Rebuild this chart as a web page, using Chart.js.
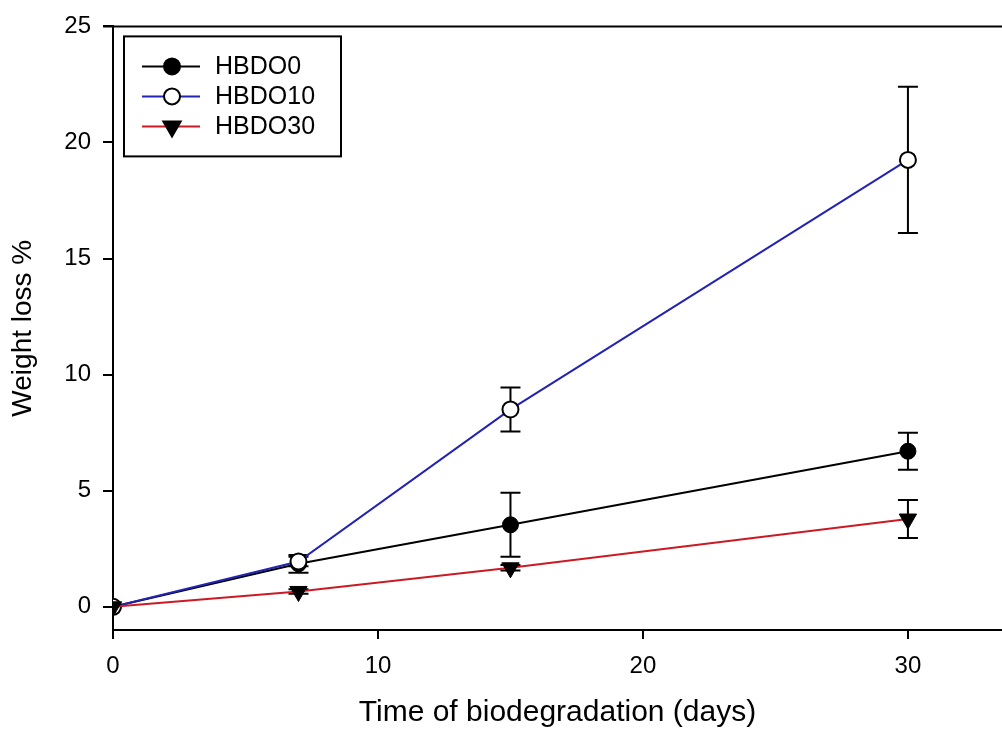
<!DOCTYPE html>
<html>
<head>
<meta charset="utf-8">
<title>Weight loss</title>
<script src="https://cdn.jsdelivr.net/npm/chart.js@4/dist/chart.umd.min.js"></script>
<style>
  html, body { margin: 0; padding: 0; background: #fff; overflow: hidden; }
  /* kanvas sedikit lebih lebar supaya sumbu x terpotong di tepi kanan */
  #wrap { width: 1002px; height: 732px; overflow: hidden; }
</style>
</head>
<body>
<div id="wrap"><canvas id="lossChart" width="1013" height="732"></canvas></div>
<script>
// Hari pengamatan
const days = [0, 7, 15, 30];

// Rata-rata weight loss (%) tiap sampel
const hbdo0 = [0, 1.85, 3.53, 6.70];
const hbdo10 = [0, 1.95, 8.50, 19.25];
const hbdo30 = [0, 0.66, 1.68, 3.78];

// Simpangan (error bar)
const hbdo0Err = [0, 0.38, 1.38, 0.80];
const hbdo10Err = [0, 0.20, 0.95, 3.15];
const hbdo30Err = [0, 0.10, 0.12, 0.82];

const seriesNames = ['HBDO0', 'HBDO10', 'HBDO30'];
const xTicks = [0, 10, 20, 30];
const yTicks = [0, 5, 10, 15, 20, 25];

const FONT = 'Arial, "Liberation Sans", sans-serif';

function toPoints(ys, errs) {
    return days.map((d, i) => ({ x: d, y: ys[i], err: errs[i] }));
}

// Garis error bar, digambar di bawah garis dan marker
const errorBars = {
    id: 'errorBars',
    beforeDatasetsDraw(chart) {
        const ctx = chart.ctx;
        const xs = chart.scales.x, ys = chart.scales.y;
        ctx.save();
        ctx.strokeStyle = '#000';
        ctx.lineWidth = 2;
        chart.data.datasets.forEach(ds => {
            ds.data.forEach(p => {
                if (!p.err) return;
                const px = xs.getPixelForValue(p.x);
                const top = ys.getPixelForValue(p.y + p.err);
                const bot = ys.getPixelForValue(p.y - p.err);
                ctx.beginPath();
                ctx.moveTo(px, top); ctx.lineTo(px, bot);
                ctx.moveTo(px - 10, top); ctx.lineTo(px + 10, top);
                ctx.moveTo(px - 10, bot); ctx.lineTo(px + 10, bot);
                ctx.stroke();
            });
        });
        ctx.restore();
    }
};

// Garis atas bingkai dan kotak legenda
const frameLegend = {
    id: 'frameLegend',
    afterDraw(chart) {
        const ctx = chart.ctx;
        const a = chart.chartArea;
        ctx.save();
        ctx.strokeStyle = '#000';
        ctx.lineWidth = 2;
        ctx.beginPath();
        ctx.moveTo(a.left - 10, a.top);
        ctx.lineTo(chart.width, a.top);
        ctx.stroke();

        const bx = a.left + 11, by = a.top + 10, bw = 217, bh = 120;
        ctx.strokeRect(bx, by, bw, bh);

        ctx.font = '25px ' + FONT;
        ctx.textBaseline = 'middle';
        chart.data.datasets.forEach((ds, i) => {
            const cy = by + 30 + i * 30;
            ctx.strokeStyle = ds.borderColor;
            ctx.lineWidth = 2;
            ctx.beginPath();
            ctx.moveTo(bx + 18, cy);
            ctx.lineTo(bx + 76, cy);
            ctx.stroke();
            ctx.fillStyle = ds.pointBackgroundColor;
            ctx.strokeStyle = ds.pointBorderColor;
            Chart.helpers.drawPoint(ctx, {
                pointStyle: ds.pointStyle,
                rotation: ds.pointRotation || 0,
                radius: ds.pointRadius,
                borderWidth: ds.pointBorderWidth
            }, bx + 48, cy);
            ctx.fillStyle = '#000';
            ctx.fillText(ds.label, bx + 91, cy + 1);
        });
        ctx.restore();
    }
};

const ctx = document.getElementById('lossChart').getContext('2d');
new Chart(ctx, {
    type: 'line',
    data: {
        datasets: [
            {
                label: seriesNames[0],
                data: toPoints(hbdo0, hbdo0Err),
                order: 2,
                borderColor: '#000000',
                borderWidth: 2,
                pointStyle: 'circle',
                pointRadius: 8,
                pointBackgroundColor: '#000000',
                pointBorderColor: '#000000',
                pointBorderWidth: 1
            },
            {
                label: seriesNames[1],
                data: toPoints(hbdo10, hbdo10Err),
                order: 1,
                borderColor: '#2323b4',
                borderWidth: 2,
                pointStyle: 'circle',
                pointRadius: 8,
                pointBackgroundColor: '#ffffff',
                pointBorderColor: '#000000',
                pointBorderWidth: 2
            },
            {
                label: seriesNames[2],
                data: toPoints(hbdo30, hbdo30Err),
                order: 0,
                borderColor: '#cc1a24',
                borderWidth: 2,
                pointStyle: 'triangle',
                pointRotation: 180,
                pointRadius: 10,
                pointBackgroundColor: '#000000',
                pointBorderColor: '#000000',
                pointBorderWidth: 1
            }
        ]
    },
    options: {
        responsive: false,
        animation: false,
        devicePixelRatio: 1,
        layout: { padding: { top: 24, right: 0, left: 0, bottom: 0 } },
        plugins: {
            legend: { display: false },
            tooltip: { enabled: false }
        },
        elements: { line: { tension: 0 } },
        scales: {
            x: {
                type: 'linear',
                min: 0,
                max: 33.55,
                afterFit: s => { s.height = 102; },
                afterBuildTicks: s => { s.ticks = xTicks.map(v => ({ value: v })); },
                ticks: { color: '#000', font: { family: FONT, size: 24 }, padding: 13, maxRotation: 0 },
                grid: { drawOnChartArea: false, tickLength: 9, color: '#000', lineWidth: 2 },
                border: { color: '#000', width: 2 },
                title: {
                    display: true,
                    text: 'Time of biodegradation (days)',
                    color: '#000',
                    font: { family: FONT, size: 30 },
                    padding: { top: 0, bottom: 1 }
                }
            },
            y: {
                min: -1,
                max: 25,
                afterFit: s => { s.width = 113; },
                afterBuildTicks: s => { s.ticks = yTicks.map(v => ({ value: v })); },
                ticks: { color: '#000', font: { family: FONT, size: 24 }, padding: 12 },
                grid: { drawOnChartArea: false, tickLength: 10, color: '#000', lineWidth: 2 },
                border: { color: '#000', width: 2 },
                title: {
                    display: true,
                    text: 'Weight loss %',
                    color: '#000',
                    font: { family: FONT, size: 28 },
                    padding: { top: 6, bottom: 0 }
                }
            }
        }
    },
    plugins: [errorBars, frameLegend]
});
</script>
</body>
</html>
